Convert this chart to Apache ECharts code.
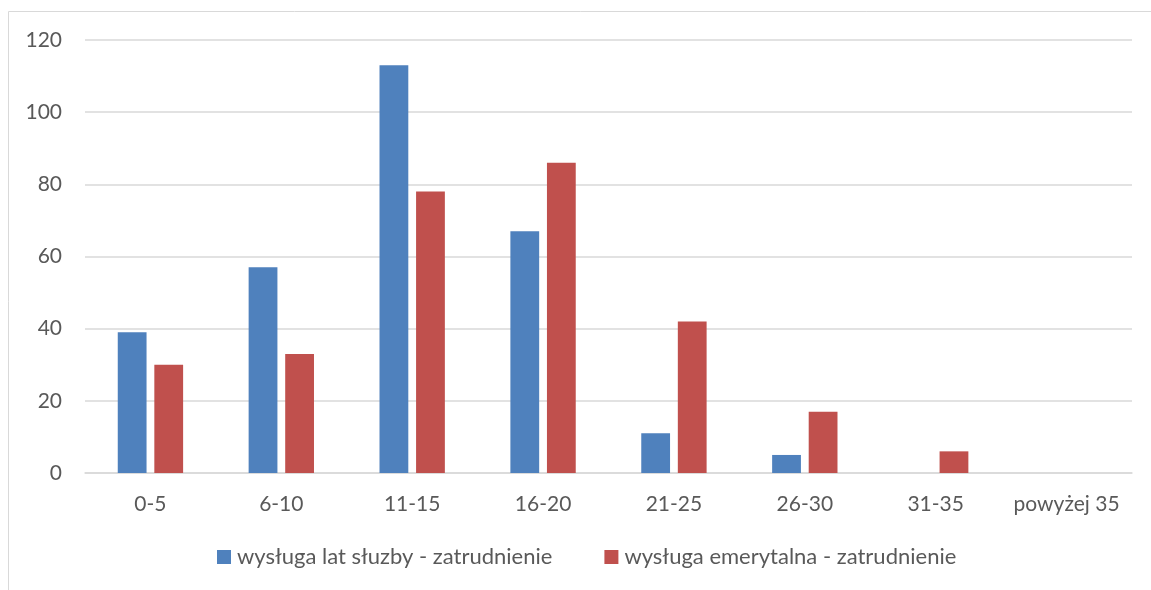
<!DOCTYPE html>
<html>
<head>
<meta charset="utf-8">
<script src="https://cdn.jsdelivr.net/npm/echarts@6/dist/echarts.min.js"></script>
<style>html,body{margin:0;padding:0;background:#fff;}#c{width:1151px;height:590px;}</style>
</head>
<body>
<div id="c"></div>
<script>
const categories = ['0-5', '6-10', '11-15', '16-20', '21-25', '26-30', '31-35', 'powyżej 35'];
const seriesNames = ['wysługa lat słuzby - zatrudnienie', 'wysługa emerytalna - zatrudnienie'];
const serviceYears = [39, 57, 113, 67, 11, 5, 0, 0];
const pensionYears = [30, 33, 78, 86, 42, 17, 6, 0];
const yTicks = { min: 0, max: 120, interval: 20 };

const font = 'Lato, "Open Sans", sans-serif';
const chart = echarts.init(document.getElementById('c'));
chart.setOption({
  animation: false,
  graphic: [{
    type: 'rect',
    shape: { x: 8.5, y: 11.5, width: 1200, height: 700 },
    style: { fill: 'none', stroke: '#d9d9d9', lineWidth: 1 },
    silent: true
  }],
  grid: { left: 85, right: 19, top: 40, bottom: 117 },
  legend: {
    bottom: 17,
    left: 212,
    itemWidth: 14,
    itemHeight: 14,
    itemGap: 52,
    icon: 'rect',
    textStyle: { fontFamily: font, fontSize: 22, color: '#595959', padding: [0, 0, 0, 1] },
    data: seriesNames
  },
  xAxis: {
    type: 'category',
    data: categories,
    axisTick: { show: false },
    axisLine: { lineStyle: { color: '#d9d9d9', width: 1.5 } },
    axisLabel: { fontFamily: font, fontSize: 21, color: '#595959', margin: 21, interval: 0 }
  },
  yAxis: {
    type: 'value',
    min: yTicks.min, max: yTicks.max, interval: yTicks.interval,
    axisLine: { show: false },
    axisTick: { show: false },
    splitLine: { lineStyle: { color: '#d9d9d9', width: 1.5 } },
    axisLabel: { fontFamily: font, fontSize: 21, color: '#595959', margin: 23 }
  },
  series: [
    { name: seriesNames[0], type: 'bar', data: serviceYears, barWidth: '22%', barGap: '27%', itemStyle: { color: '#4F81BD' } },
    { name: seriesNames[1], type: 'bar', data: pensionYears, barWidth: '22%', barGap: '27%', itemStyle: { color: '#C0504D' } }
  ]
});
</script>
</body>
</html>
